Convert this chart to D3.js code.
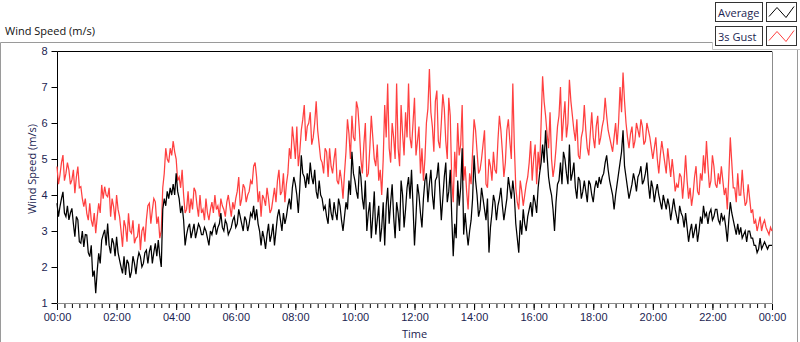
<!DOCTYPE html>
<html>
<head>
  <meta charset="utf-8">
  <title>Wind Speed</title>
  <script src="https://d3js.org/d3.v7.min.js"></script>
  <style>
  body {
    margin: 0;
    background: #fff;
  }

  svg {
    display: block;
    font-family: "Open Sans", "Noto Sans", sans-serif;
    font-size: 11px;
  }

  .label {
    fill: #1b2451;
  }

  .series {
    fill: none;
    stroke-width: 1.25;
    stroke-linejoin: miter;
  }
  </style>
</head>
<body>
  <script>
    // readings every 6 minutes (00:00 -> 24:00) plus the reading 3 minutes after each
    var sampleMinutes = 6;

    var average = [
      3.77, 3.68, 4.09, 3.40, 3.31, 3.63, 2.84, 3.31, 2.66, 2.56,
      2.89, 2.29, 1.73, 1.27, 2.38, 2.75, 3.03, 3.21, 2.38, 2.66,
      2.84, 2.19, 1.82, 1.78, 2.10, 1.87, 2.10, 2.19, 2.29, 2.10,
      2.47, 2.43, 2.10, 2.66, 2.75,
      2.0, 3.9, 4.1, 4.2, 4.3, 4.6, 3.9, 3.7, 2.6, 3.1,
      2.8, 3.2, 3.0, 3.1, 2.9, 3.0, 2.6, 2.9, 3.2, 3.1,
      3.5, 3.0, 3.2, 3.0, 3.3, 3.1, 3.6, 3.2, 3.4, 3.0,
      3.5, 3.7, 3.6, 3.0,
      3.0, 2.5, 3.2, 2.9, 2.6, 3.4, 3.3, 3.5, 3.4, 3.9,
      4.2, 4.3, 3.5, 5.1, 4.5, 4.6, 4.9, 4.3, 4.1, 4.4,
      3.9, 3.7, 3.2, 3.5, 3.8, 3.3, 3.7, 3.0, 3.8, 4.4,
      5.2, 4.4, 3.9, 4.5, 3.6,
      3.0, 3.8, 3.4, 2.9, 3.7, 3.1, 2.6, 4.2, 3.8, 3.4,
      3.8, 3.0, 4.0, 3.6, 4.5, 4.7, 2.6, 4.3, 3.5, 3.9,
      4.6, 4.3, 4.0, 4.4, 4.9, 3.3, 4.5, 3.8, 4.7, 2.3,
      2.8, 3.7, 5.3, 3.5,
      2.6, 3.3, 5.1, 4.0, 3.6, 3.9, 3.3, 2.4, 3.5, 3.8,
      3.7, 4.2, 3.3, 3.9, 4.2, 4.4, 3.2, 2.4, 2.9, 3.2,
      3.4, 3.8, 4.0, 3.5, 4.6, 5.4, 5.8, 4.5, 4.0, 3.0,
      4.3, 4.9, 5.2, 4.6, 5.4,
      4.6, 4.2, 4.5, 3.9, 4.4, 3.8, 4.3, 3.8, 4.4, 4.5,
      4.5, 4.9, 4.7, 4.2, 3.6, 4.3, 4.9, 5.8, 4.5, 3.9,
      4.3, 4.4, 4.5, 4.8, 4.4, 4.9, 3.9, 4.2, 4.1, 4.0,
      3.6, 3.8, 3.9, 3.3,
      3.9, 3.4, 3.7, 3.4, 3.5, 2.7, 3.2, 3.0, 2.7, 3.4,
      3.7, 3.5, 3.5, 3.3, 3.6, 3.3, 3.5, 3.4, 2.7, 3.8,
      3.3, 2.9, 2.9, 2.8, 3.0, 3.0, 2.8, 2.6, 2.4, 2.8,
      2.6, 2.6, 2.6, 2.6
    ];

    var averageBetween = [
      3.4, 3.9, 3.5, 3.7, 3.5, 3.2, 3.4, 2.7, 3.0, 2.9,
      2.4, 2.6, 1.9, 1.9, 2.1, 2.9, 2.6, 2.6, 2.8, 2.3,
      2.4, 2.0, 2.3, 2.2, 1.7, 2.3, 1.8, 2.4, 2.0, 2.4,
      2.1, 2.6, 2.4, 2.3,
      2.3, 3.6, 3.7, 3.9, 4.0, 4.0, 4.1, 3.5, 3.3, 2.9,
      3.2, 3.0, 2.8, 3.2, 2.9, 3.1, 2.8, 3.0, 3.1, 2.9,
      3.2, 3.1, 3.3, 2.9, 3.1, 3.4, 3.2, 3.4, 3.0, 3.3,
      3.2, 3.4, 3.3, 3.2,
      2.6, 2.8, 2.9, 2.7, 3.2, 3.0, 3.6, 3.0, 3.2, 3.7,
      3.6, 4.5, 4.0, 4.2, 4.6, 4.2, 4.3, 4.5, 4.7, 3.9,
      4.0, 3.6, 3.4, 3.9, 3.3, 3.5, 3.9, 3.3, 3.4, 3.6,
      4.0, 4.6, 4.1, 4.8, 3.9,
      4.4, 3.5, 2.8, 4.1, 3.3, 2.7, 3.8, 3.7, 3.2, 4.3,
      2.8, 3.5, 4.4, 3.1, 4.2, 3.9, 3.7, 3.4, 4.0, 3.1,
      4.4, 3.8, 4.7, 3.6, 4.5, 4.1, 3.9, 4.9, 4.1, 3.4,
      3.2, 4.4, 4.2, 2.9,
      3.0, 3.0, 3.9, 4.4, 3.4, 4.2, 3.6, 3.9, 3.1, 4.0,
      3.3, 3.9, 3.7, 3.6, 4.5, 3.9, 4.0, 2.8, 3.3, 3.6,
      3.0, 3.6, 3.4, 3.8, 4.2, 4.9, 4.9, 5.1, 4.2, 3.6,
      3.8, 4.4, 4.3, 5.0, 4.3,
      4.4, 4.9, 3.9, 4.4, 4.1, 4.1, 4.4, 4.0, 4.2, 4.2,
      4.3, 4.6, 5.1, 4.4, 4.0, 4.0, 4.6, 5.2, 4.8, 4.2,
      4.1, 4.6, 4.1, 4.6, 4.3, 4.6, 4.3, 4.4, 3.8, 4.3,
      3.8, 4.0, 3.6, 3.7,
      3.6, 3.6, 3.2, 3.5, 3.1, 3.1, 3.0, 2.8, 3.2, 3.0,
      3.2, 3.4, 3.2, 3.6, 3.4, 3.6, 3.2, 3.3, 3.1, 3.3,
      3.5, 3.1, 3.2, 3.1, 2.9, 2.7, 3.0, 2.8, 2.6, 2.5,
      2.5, 2.7, 2.5, 2.6
    ];

    var gust = [
      4.79, 4.56, 5.11, 4.60, 4.69, 4.42, 4.05, 4.79, 4.23, 3.68,
      3.49, 3.77, 3.12, 2.94, 3.77, 4.28, 4.23, 3.95, 3.40, 3.68,
      4.00, 3.40, 2.56, 3.12, 3.49, 2.94, 2.66, 2.84, 2.47, 3.12,
      3.31, 3.77, 3.58, 3.81, 3.40,
      3.0, 4.6, 5.0, 5.3, 5.5, 5.0, 4.5, 4.7, 3.5, 4.1,
      3.9, 4.2, 3.7, 4.0, 3.6, 3.9, 3.3, 3.8, 4.0, 3.7,
      3.9, 3.6, 3.8, 3.7, 3.8, 3.9, 4.5, 3.9, 4.2, 4.0,
      4.4, 4.8, 4.5, 4.1,
      4.0, 3.7, 3.9, 3.6, 4.2, 4.4, 4.0, 4.6, 4.3, 5.3,
      5.9, 5.0, 4.8, 5.8, 6.5, 5.9, 6.3, 5.6, 6.6, 5.4,
      4.9, 5.3, 4.5, 4.8, 5.0, 4.4, 4.7, 3.9, 5.2, 5.7,
      6.2, 5.5, 6.4, 5.0, 5.4,
      4.5, 5.3, 5.6, 4.8, 4.4, 4.0, 6.5, 7.1, 4.9, 5.6,
      7.1, 4.8, 5.7, 6.3, 7.1, 5.3, 6.7, 5.5, 4.6, 4.4,
      6.0, 7.5, 5.9, 6.6, 5.5, 6.0, 6.4, 5.0, 6.2, 3.8,
      4.5, 5.1, 6.5, 4.8,
      3.6, 4.3, 6.1, 5.2, 4.7, 5.4, 4.3, 5.0, 4.4, 4.7,
      5.5, 5.8, 4.5, 5.8, 5.5, 7.1, 4.2, 3.6, 4.1, 4.0,
      4.5, 5.5, 5.0, 4.3, 4.7, 7.3, 6.2, 5.3, 5.0, 4.8,
      5.9, 7.0, 6.1, 5.6, 7.2,
      6.2, 5.5, 5.1, 5.6, 6.5, 5.3, 5.7, 5.6, 5.9, 5.4,
      5.9, 6.7, 5.8, 5.4, 5.6, 5.4, 7.0, 7.4, 6.0, 5.3,
      5.9, 5.5, 5.8, 6.1, 5.4, 6.0, 5.6, 5.0, 5.6, 4.6,
      5.5, 4.9, 5.3, 4.5,
      4.6, 4.3, 4.6, 3.9, 5.1, 3.9, 3.7, 4.5, 4.1, 4.6,
      5.1, 5.5, 4.2, 5.1, 4.3, 4.6, 4.8, 4.0, 3.6, 5.6,
      4.2, 3.8, 4.0, 4.7, 3.7, 4.3, 3.5, 3.2, 3.0, 3.4,
      3.2, 3.1, 2.9, 3.0
    ];

    var gustBetween = [
      4.3, 4.9, 4.4, 4.9, 4.3, 4.7, 4.5, 4.2, 3.9, 3.9,
      3.3, 3.3, 3.5, 3.4, 3.5, 3.9, 4.0, 4.2, 3.9, 3.3,
      3.6, 3.0, 3.3, 2.7, 3.0, 3.3, 2.8, 3.2, 3.0, 2.7,
      3.7, 3.2, 3.9, 3.2,
      2.8, 4.2, 5.3, 4.9, 5.1, 5.2, 4.4, 4.2, 4.0, 3.6,
      3.5, 3.6, 4.1, 3.4, 3.5, 3.3, 3.5, 3.6, 3.5, 3.6,
      3.4, 3.7, 3.4, 4.0, 3.4, 3.6, 4.1, 3.7, 4.3, 3.8,
      4.1, 4.3, 4.9, 3.8,
      3.4, 3.9, 4.2, 3.5, 3.9, 3.8, 4.7, 4.1, 3.8, 4.6,
      5.0, 5.5, 5.9, 5.2, 6.1, 5.5, 6.0, 5.4, 6.0, 5.8,
      5.0, 4.6, 5.2, 5.3, 4.6, 5.3, 4.3, 4.4, 4.6, 6.1,
      5.0, 5.6, 6.6, 5.8, 4.6,
      6.0, 4.6, 6.2, 5.0, 5.4, 4.7, 5.0, 5.6, 5.3, 6.0,
      5.0, 5.3, 6.5, 5.1, 5.6, 5.6, 6.0, 5.1, 5.9, 5.3,
      5.0, 6.4, 6.3, 5.2, 6.9, 5.3, 6.8, 5.5, 6.7, 4.4,
      5.2, 6.0, 5.4, 4.4,
      4.1, 4.6, 5.2, 5.8, 4.6, 5.0, 5.8, 4.2, 4.8, 5.2,
      4.6, 6.2, 5.2, 4.9, 6.1, 5.0, 5.4, 3.8, 4.4, 3.7,
      4.3, 4.9, 4.4, 5.4, 5.2, 6.0, 6.6, 5.7, 6.3, 4.5,
      5.3, 6.2, 5.5, 6.6, 6.0,
      6.6, 5.8, 6.1, 5.0, 5.8, 5.8, 5.1, 6.3, 5.3, 6.2,
      5.6, 6.1, 6.2, 5.6, 5.2, 6.0, 6.0, 6.3, 6.6, 5.6,
      5.7, 5.3, 6.0, 5.6, 5.9, 5.5, 5.8, 5.3, 5.3, 5.0,
      5.1, 5.2, 4.6, 4.9,
      5.0, 4.1, 4.2, 4.5, 4.4, 4.4, 4.2, 4.0, 4.8, 4.0,
      4.4, 4.6, 4.8, 4.4, 4.8, 4.2, 4.3, 4.4, 4.2, 4.5,
      4.9, 4.2, 4.6, 4.0, 4.1, 3.8, 3.9, 3.6, 3.3, 3.2,
      3.0, 3.3, 3.0, 3.1
    ];

    var yTicks = [1, 2, 3, 4, 5, 6, 7, 8];
    var xMajorHours = [0, 2, 4, 6, 8, 10, 12, 14, 16, 18, 20, 22, 24];
    var xMinorStep = 0.25;
    var legendNames = ["Average", "3s Gust"];
    var legendColors = ["#000000", "#ff4040"];

    var width = 800;
    var height = 342;
    var plot = { left: 57, top: 51, right: 772, bottom: 303 };

    function toSeries(onGrid, between) {
      var out = [];
      onGrid.forEach(function(v, i) {
        out.push([i * sampleMinutes / 60, v]);
        if (i < between.length) {
          out.push([(i + 0.5) * sampleMinutes / 60, between[i]]);
        }
      });
      return out;
    }

    var svg = d3.select("body")
      .append("svg")
      .attr("width", width)
      .attr("height", height);

    // outer panel frame
    svg.append("path")
      .attr("d", "M0.5,342V42.5H712")
      .attr("fill", "none")
      .attr("stroke", "#9a9a9a");
    svg.append("line")
      .attr("x1", 797.5).attr("x2", 797.5)
      .attr("y1", 49).attr("y2", 342)
      .attr("stroke", "#9a9a9a");

    svg.append("text")
      .attr("x", 5)
      .attr("y", 35)
      .attr("fill", "#111")
      .text("Wind Speed (m/s)");

    var x = d3.scaleLinear()
      .domain([0, 24])
      .range([plot.left, plot.right]);

    var y = d3.scaleLinear()
      .domain([1, 8])
      .range([plot.bottom, plot.top]);

    // plot area frame: dark top/left, grey bottom/right
    svg.append("path")
      .attr("d", "M" + (plot.left + 0.5) + "," + plot.bottom + "V" + (plot.top + 0.5) + "H" + plot.right)
      .attr("fill", "none")
      .attr("stroke", "#000");
    svg.append("path")
      .attr("d", "M" + (plot.left + 0.5) + "," + (plot.bottom + 0.5) + "H" + (plot.right + 0.5) + "V" + (plot.top + 0.5))
      .attr("fill", "none")
      .attr("stroke", "#8c8c8c");

    // y axis
    var yAxis = svg.append("g")
      .attr("transform", "translate(" + (plot.left + 0.5) + ",0)")
      .call(d3.axisLeft(y).tickValues(yTicks).tickSize(6).tickPadding(4).tickFormat(d3.format("d")));
    yAxis.select(".domain").remove();
    yAxis.selectAll("text").attr("class", "label").style("font-size", "11px").style("font-family", "inherit");

    // x axis, minor ticks then major ticks with labels
    var minorHours = d3.range(0, 24 + xMinorStep / 2, xMinorStep);
    var xMinor = svg.append("g")
      .attr("transform", "translate(0," + (plot.bottom + 1) + ")")
      .call(d3.axisBottom(x).tickValues(minorHours).tickSize(4).tickFormat(""));
    xMinor.select(".domain").remove();

    var xAxis = svg.append("g")
      .attr("transform", "translate(0," + (plot.bottom + 1) + ")")
      .call(d3.axisBottom(x).tickValues(xMajorHours).tickSize(6).tickPadding(3)
        .tickFormat(function(h) { return d3.format("02d")(h % 24) + ":00"; }));
    xAxis.select(".domain").remove();
    xAxis.selectAll("text").attr("class", "label").style("font-size", "11px").style("font-family", "inherit");

    svg.append("text")
      .attr("class", "label")
      .attr("x", (plot.left + plot.right) / 2)
      .attr("y", 338)
      .attr("text-anchor", "middle")
      .text("Time");

    svg.append("text")
      .attr("class", "label")
      .attr("transform", "translate(36," + ((plot.top + plot.bottom) / 2 - 8) + ") rotate(-90)")
      .attr("text-anchor", "middle")
      .text("Wind Speed (m/s)");

    var line = d3.line()
      .x(function(d) { return x(d[0]); })
      .y(function(d) { return y(d[1]); });

    var lines = svg.append("g");
    lines.append("path")
      .datum(toSeries(gust, gustBetween))
      .attr("class", "series")
      .attr("stroke", legendColors[1])
      .attr("d", line);
    lines.append("path")
      .datum(toSeries(average, averageBetween))
      .attr("class", "series")
      .attr("stroke", legendColors[0])
      .attr("d", line);

    // legend panel
    var legend = svg.append("g");
    legend.append("path")
      .attr("d", "M712.5,42V49.5H800")
      .attr("fill", "none")
      .attr("stroke", "#c4c4c4");

    var zig = [[0, 11], [8, 2], [17, 12], [25, 1]];
    legendNames.forEach(function(name, k) {
      var top = 2.5 + k * 24;
      legend.append("rect")
        .attr("x", 715.5).attr("y", top)
        .attr("width", 47).attr("height", 19)
        .attr("fill", "#fff")
        .attr("stroke", "#333");
      legend.append("text")
        .attr("class", "label")
        .attr("x", 718)
        .attr("y", top + 14)
        .text(name);
      legend.append("rect")
        .attr("x", 766.5).attr("y", top)
        .attr("width", 30).attr("height", 19)
        .attr("fill", "#fff")
        .attr("stroke", "#333");
      legend.append("path")
        .datum(zig)
        .attr("transform", "translate(769," + (top + 3) + ")")
        .attr("fill", "none")
        .attr("stroke", legendColors[k])
        .attr("d", d3.line());
    });
  </script>
</body>
</html>
